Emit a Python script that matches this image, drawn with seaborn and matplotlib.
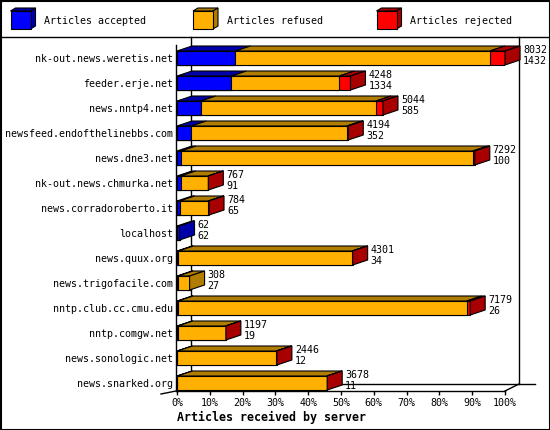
import numpy as np
import pandas as pd
import seaborn as sns
import matplotlib.pyplot as plt
from matplotlib.patches import Polygon, Rectangle

### DATA
servers = [
    "nk-out.news.weretis.net", "feeder.erje.net", "news.nntp4.net",
    "newsfeed.endofthelinebbs.com", "news.dne3.net", "nk-out.news.chmurka.net",
    "news.corradoroberto.it", "localhost", "news.quux.org", "news.trigofacile.com",
    "nntp.club.cc.cmu.edu", "nntp.comgw.net", "news.sonologic.net", "news.snarked.org",
]
accepted = [1432, 1334, 585, 352, 100, 91, 65, 62, 34, 27, 26, 19, 12, 11]
refused = [6230, 2644, 4289, 3807, 7142, 671, 699, 0, 4257, 281, 7068, 1173, 2419, 3662]
rejected = [370, 270, 170, 35, 50, 5, 20, 0, 10, 0, 85, 5, 15, 5]
series_names = ["Articles accepted", "Articles refused", "Articles rejected"]
tick_values = list(range(0, 101, 10))

FRONT = ["#0000FF", "#FFB000", "#FF0000"]
DARK = ["#0000A8", "#B07D00", "#A80000"]
MONO = "DejaVu Sans Mono"
FS = 7.2

totals = [a + r + j for a, r, j in zip(accepted, refused, rejected)]
scale = 100.0 / max(totals)
df = pd.DataFrame({
    "server": servers,
    "acc": [a * scale for a in accepted],
    "acc_ref": [(a + r) * scale for a, r in zip(accepted, refused)],
    "total": [t * scale for t in totals],
})

fig = plt.figure(figsize=(5.5, 4.3), dpi=100)

# background layer in pixel coordinates (frame, legend)
bg = fig.add_axes([0, 0, 1, 1])
bg.set_xlim(0, 550)
bg.set_ylim(430, 0)
bg.axis("off")

bg.add_patch(Rectangle((0.5, 0.5), 549, 429, fill=False, edgecolor="black", lw=1.5))
bg.plot([0, 550], [37, 37], color="black", lw=1)

# legend boxes
for x0, name, fc, dc in zip([10.5, 193, 376.5], series_names, FRONT, DARK):
    x1, y0, y1, ddx, ddy = x0 + 20, 11, 29, 5, -3
    bg.add_patch(Polygon([(x0, y0), (x1, y0), (x1 + ddx, y0 + ddy), (x0 + ddx, y0 + ddy)],
                         facecolor=dc, edgecolor="black", lw=0.8))
    bg.add_patch(Polygon([(x1, y0), (x1 + ddx, y0 + ddy), (x1 + ddx, y1 + ddy), (x1, y1)],
                         facecolor=dc, edgecolor="black", lw=0.8))
    bg.add_patch(Rectangle((x0, y0), 20, y1 - y0, facecolor=fc, edgecolor="black", lw=0.8))
    bg.text(x0 + 34, 21, name, family=MONO, fontsize=FS, va="center", ha="left")

# pseudo-3D frame
frame_lines = [
    ((191, 191), (37, 384)), ((191, 535), (384, 384)), ((519, 519), (37, 384)),
    ((176, 176), (45, 391)), ((176, 505), (391, 391)), ((505, 519), (391, 384)),
    ((161, 176), (394, 391)),
]
for xs, ys in frame_lines:
    bg.plot(xs, ys, color="black", lw=1)

# main plot area
ax = fig.add_axes([177 / 550, 1 - 391 / 430, 328 / 550, 346 / 430])
ax.patch.set_alpha(0)

bar_w = 0.56
for col, color in zip(["total", "acc_ref", "acc"], FRONT[::-1]):
    sns.barplot(data=df, y="server", x=col, orient="h", color=color, saturation=1,
                width=bar_w, edgecolor="black", linewidth=0.8, errorbar=None, ax=ax)

ax.set_xlim(0, 100)
ax.set_ylim(13.32, -0.52)

# depth offsets (px -> data units)
px_x = 328 / 100.0
px_y = 346 / 13.84
DX, DY = 15 / px_x, -5 / px_y

for i, row in df.iterrows():
    edges = [0, row["acc"], row["acc_ref"], row["total"]]
    segs = [(edges[k], edges[k + 1], k) for k in range(3) if edges[k + 1] > edges[k]]
    top, bot = i - bar_w / 2, i + bar_w / 2
    for s, e, k in segs:
        ax.add_patch(Polygon([(s, top), (e, top), (e + DX, top + DY), (s + DX, top + DY)],
                             facecolor=DARK[k], edgecolor="black", lw=0.8,
                             clip_on=False, zorder=3))
    s, e, k = segs[-1]
    ax.add_patch(Polygon([(e, top), (e + DX, top + DY), (e + DX, bot + DY), (e, bot)],
                         facecolor=DARK[k], edgecolor="black", lw=0.8,
                         clip_on=False, zorder=3))
    ax.text(e + DX + 3 / px_x, i - 2.5 / px_y, f"{totals[i]}\n{accepted[i]}",
            family=MONO, fontsize=FS, va="center", ha="left", linespacing=1.05,
            clip_on=False)

for side in ["top", "right", "left", "bottom"]:
    ax.spines[side].set_visible(False)

ax.set_xticks(tick_values)
ax.set_xticklabels([f"{v}%" for v in tick_values], family=MONO, fontsize=FS)
ax.set_yticks(range(len(servers)))
ax.set_yticklabels(servers, family=MONO, fontsize=FS)
ax.tick_params(axis="x", length=3, width=1, pad=2)
ax.tick_params(axis="y", length=0, pad=3)
ax.set_ylabel("")
ax.set_xlabel("Articles received by server", family=MONO, fontsize=8.4,
              fontweight="bold", loc="left", labelpad=2)

fig.savefig("out.png", dpi=100)
